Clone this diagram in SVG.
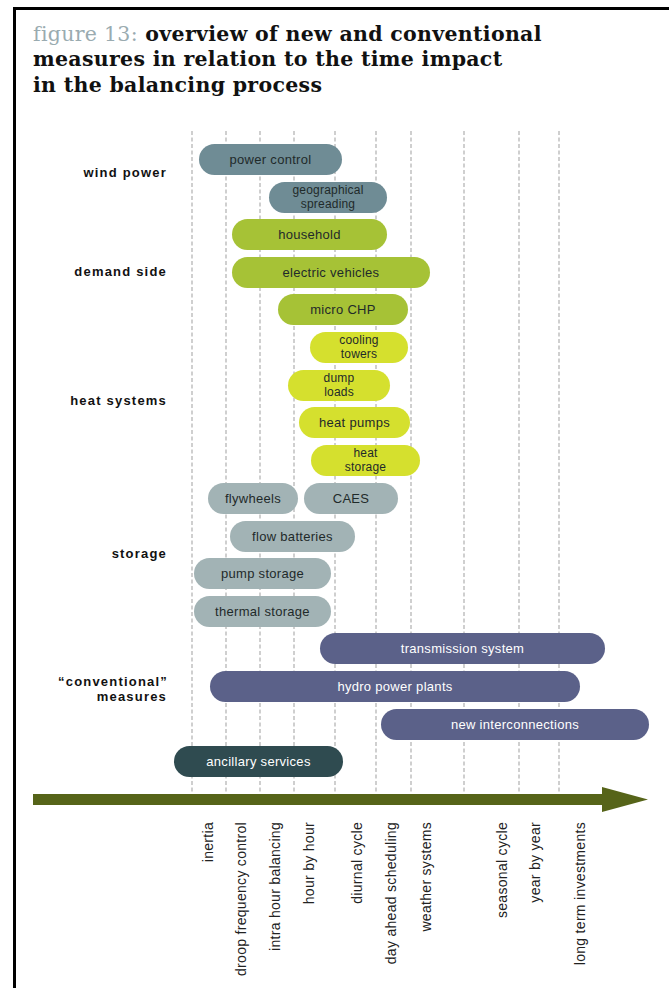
<svg xmlns="http://www.w3.org/2000/svg" width="669" height="988" viewBox="0 0 669 988">
<style>
.title{font-family:"DejaVu Serif","Liberation Serif",serif;font-weight:bold;font-size:20.5px;letter-spacing:0.3px;fill:#111}
.fig{font-weight:normal;fill:#9aabb0}
.cat{font-family:"Liberation Sans",Arial,sans-serif;font-weight:bold;font-size:13px;letter-spacing:1.2px;fill:#111;text-anchor:end}
.grid{stroke:#c4c4c4;stroke-width:1.6;stroke-dasharray:4 2.5;fill:none}
.bar text{font-family:"Liberation Sans",Arial,sans-serif;font-size:13px;letter-spacing:0.3px;text-anchor:middle;fill:#1f2a2a}
.bar text.two{font-size:12px;letter-spacing:0.2px}
.wind rect{fill:#6f8c95}
.dem rect{fill:#a6c236}
.heat rect{fill:#d5e02e}
.stor rect{fill:#a2b3b5}
.conv rect{fill:#5b6189}
.conv text{fill:#fff}
.anc rect{fill:#2f4b50}
.anc text{fill:#fff}
.axis text{font-family:"Liberation Sans",Arial,sans-serif;font-size:14px;letter-spacing:0.3px;fill:#222;text-anchor:end}
</style>
<rect x="0" y="0" width="669" height="988" fill="#fff"/>
<g id="frame" fill="#000">
<rect x="13" y="7" width="656" height="3"/>
<rect x="13" y="7" width="3" height="981"/>
</g>
<g id="title">
<text class="title" x="33" y="41"><tspan class="fig">figure 13:</tspan> overview of new and conventional</text>
<text class="title" x="33" y="66">measures in relation to the time impact</text>
<text class="title" x="33" y="92">in the balancing process</text>
</g>
<g id="gridlines">
<line class="grid" x1="192" y1="131" x2="192" y2="797"/>
<line class="grid" x1="226" y1="131" x2="226" y2="797"/>
<line class="grid" x1="260" y1="131" x2="260" y2="797"/>
<line class="grid" x1="294" y1="131" x2="294" y2="797"/>
<line class="grid" x1="335" y1="131" x2="335" y2="797"/>
<line class="grid" x1="376" y1="131" x2="376" y2="797"/>
<line class="grid" x1="411" y1="131" x2="411" y2="797"/>
<line class="grid" x1="464" y1="131" x2="464" y2="797"/>
<line class="grid" x1="519" y1="131" x2="519" y2="797"/>
<line class="grid" x1="559" y1="131" x2="559" y2="797"/>
</g>
<g id="categories">
<text class="cat" x="167" y="177">wind power</text>
<text class="cat" x="167" y="276">demand side</text>
<text class="cat" x="167" y="405">heat systems</text>
<text class="cat" x="167" y="558">storage</text>
<text class="cat" x="168" y="686">“conventional”</text>
<text class="cat" x="167" y="701">measures</text>
</g>
<g id="power-control" class="bar wind"><rect x="199" y="144" width="143" height="31" rx="15.5"/><text x="270.5" y="164">power control</text></g>
<g id="geographical-spreading" class="bar wind"><rect x="269" y="182" width="118" height="31" rx="15.5"/><text class="two" x="328" y="194">geographical</text><text class="two" x="328" y="208">spreading</text></g>
<g id="household" class="bar dem"><rect x="232" y="219" width="155" height="31" rx="15.5"/><text x="309.5" y="239">household</text></g>
<g id="electric-vehicles" class="bar dem"><rect x="232" y="257" width="198" height="31" rx="15.5"/><text x="331" y="277">electric vehicles</text></g>
<g id="micro-chp" class="bar dem"><rect x="278" y="294" width="130" height="31" rx="15.5"/><text x="343" y="314">micro CHP</text></g>
<g id="cooling-towers" class="bar heat"><rect x="310" y="332" width="98" height="31" rx="15.5"/><text class="two" x="359" y="344">cooling</text><text class="two" x="359" y="358">towers</text></g>
<g id="dump-loads" class="bar heat"><rect x="288" y="370" width="102" height="31" rx="15.5"/><text class="two" x="339" y="382">dump</text><text class="two" x="339" y="396">loads</text></g>
<g id="heat-pumps" class="bar heat"><rect x="299" y="407" width="111" height="31" rx="15.5"/><text x="354.5" y="427">heat pumps</text></g>
<g id="heat-storage" class="bar heat"><rect x="311" y="445" width="109" height="31" rx="15.5"/><text class="two" x="365.5" y="457">heat</text><text class="two" x="365.5" y="471">storage</text></g>
<g id="flywheels" class="bar stor"><rect x="208" y="483" width="90" height="31" rx="15.5"/><text x="253" y="503">flywheels</text></g>
<g id="caes" class="bar stor"><rect x="304" y="483" width="94" height="31" rx="15.5"/><text x="351" y="503">CAES</text></g>
<g id="flow-batteries" class="bar stor"><rect x="230" y="521" width="125" height="31" rx="15.5"/><text x="292.5" y="541">flow batteries</text></g>
<g id="pump-storage" class="bar stor"><rect x="194" y="558" width="137" height="31" rx="15.5"/><text x="262.5" y="578">pump storage</text></g>
<g id="thermal-storage" class="bar stor"><rect x="194" y="596" width="137" height="31" rx="15.5"/><text x="262.5" y="616">thermal storage</text></g>
<g id="transmission-system" class="bar conv"><rect x="320" y="633" width="285" height="31" rx="15.5"/><text x="462.5" y="653">transmission system</text></g>
<g id="hydro-power-plants" class="bar conv"><rect x="210" y="671" width="370" height="31" rx="15.5"/><text x="395" y="691">hydro power plants</text></g>
<g id="new-interconnections" class="bar conv"><rect x="381" y="709" width="268" height="31" rx="15.5"/><text x="515" y="729">new interconnections</text></g>
<g id="ancillary-services" class="bar anc"><rect x="174" y="746" width="169" height="31" rx="15.5"/><text x="258.5" y="766">ancillary services</text></g>
<g id="time-axis" fill="#566419">
<rect x="33" y="794" width="572" height="11"/>
<polygon points="602,787 648,799.5 602,812"/>
</g>
<g id="axis-labels" class="axis">
<text transform="translate(213,822) rotate(-90)">inertia</text>
<text transform="translate(246,822) rotate(-90)">droop frequency control</text>
<text transform="translate(280,822) rotate(-90)">intra hour balancing</text>
<text transform="translate(314,822) rotate(-90)">hour by hour</text>
<text transform="translate(362,822) rotate(-90)">diurnal cycle</text>
<text transform="translate(396,822) rotate(-90)">day ahead scheduling</text>
<text transform="translate(431,822) rotate(-90)">weather systems</text>
<text transform="translate(507,822) rotate(-90)">seasonal cycle</text>
<text transform="translate(540,822) rotate(-90)">year by year</text>
<text transform="translate(585,822) rotate(-90)">long term investments</text>
</g>
</svg>
